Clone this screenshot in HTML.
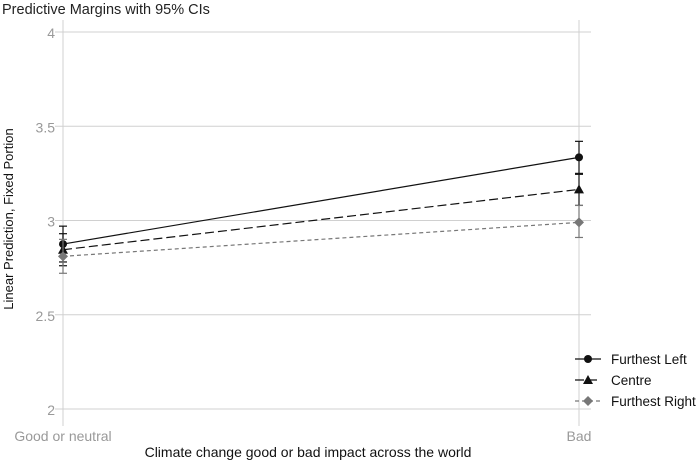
<!DOCTYPE html>
<html><head><meta charset="utf-8"><style>
html,body{margin:0;padding:0;background:#fff}
svg{display:block;font-family:"Liberation Sans",sans-serif}
</style></head><body>
<svg id="chart" width="700" height="463">
<text x="2" y="14" font-size="14.5" fill="#222">Predictive Margins with 95% CIs</text>
<g id="grid"></g>
<g id="series"></g>
<text x="13" y="219" font-size="13" fill="#111" transform="rotate(-90 13 219)" text-anchor="middle">Linear Prediction, Fixed Portion</text>
<text x="308" y="457" font-size="14" fill="#111" text-anchor="middle">Climate change good or bad impact across the world</text>
<g id="legend"></g>
</svg>
<script>
const categories = ["Good or neutral", "Bad"];
const yTicks = [2, 2.5, 3, 3.5, 4];
const yTickLabels = ["2", "2.5", "3", "3.5", "4"];
const seriesNames = ["Furthest Left", "Centre", "Furthest Right"];
const leftMean = [2.875, 3.335];
const leftLo = [2.78, 3.25];
const leftHi = [2.97, 3.42];
const centreMean = [2.845, 3.165];
const centreLo = [2.76, 3.08];
const centreHi = [2.93, 3.245];
const rightMean = [2.81, 2.99];
const rightLo = [2.72, 2.91];
const rightHi = [2.90, 3.08];

const NS = "http://www.w3.org/2000/svg";
function mk(tag, attrs, parent){const e=document.createElementNS(NS,tag);for(const k in attrs)e.setAttribute(k,attrs[k]);parent.appendChild(e);return e;}
const x0=63, x1=579, yTop=32, yBot=409;
function xs(i){return x0+(x1-x0)*i/(categories.length-1);}
function ys(v){return yBot-(v-2)/(4-2)*(yBot-yTop);}
const grid=document.getElementById('grid');
yTicks.forEach((t,i)=>{
  const l=mk('line',{x1:x0-8,x2:x1+12,y1:ys(t),y2:ys(t),stroke:'#d0d0d0','stroke-width':1},grid);
  
  
  const tx=mk('text',{x:x0-8,y:ys(t)+6,'font-size':14,fill:'#999','text-anchor':'end'},grid);
  tx.textContent=yTickLabels[i];
  
  
});
categories.forEach((c,i)=>{
  const l=mk('line',{x1:xs(i),x2:xs(i),y1:20,y2:426,stroke:'#d0d0d0','stroke-width':1},grid);
  
  
  const tx=mk('text',{x:xs(i),y:441,'font-size':14,fill:'#999','text-anchor':'middle'},grid);
  tx.textContent=c;
  
  
});
const ser=[
 {m:leftMean,lo:leftLo,hi:leftHi,col:'#111',dash:'',marker:'circle'},
 {m:centreMean,lo:centreLo,hi:centreHi,col:'#111',dash:'9,4',marker:'tri'},
 {m:rightMean,lo:rightLo,hi:rightHi,col:'#777',dash:'4,3',marker:'diamond'}
];
function marker(g,type,x,y,col){
  let e;
  if(type==='circle')e=mk('circle',{cx:x,cy:y,r:4,fill:col},g);
  else if(type==='tri')e=mk('polygon',{points:`${x},${y-5} ${x-5},${y+4} ${x+5},${y+4}`,fill:col},g);
  else e=mk('polygon',{points:`${x},${y-5} ${x+5},${y} ${x},${y+5} ${x-5},${y}`,fill:col},g);
  return e;
}
const sg=document.getElementById('series');
ser.forEach((s,k)=>{
  const g=mk('g',{},sg);
  
  
  s.m.forEach((v,i)=>{
    const x=xs(i);
    const eb=mk('line',{x1:x,x2:x,y1:ys(s.lo[i]),y2:ys(s.hi[i]),stroke:s.col,'stroke-width':1.2},g);
    
    
    [s.lo[i],s.hi[i]].forEach(v2=>{
      const cap=mk('line',{x1:x-4,x2:x+4,y1:ys(v2),y2:ys(v2),stroke:s.col,'stroke-width':1.2},g);
      
      
    });
  });
  const pl=mk('polyline',{points:s.m.map((v,i)=>xs(i)+','+ys(v)).join(' '),fill:'none',stroke:s.col,'stroke-width':1.2,'stroke-dasharray':s.dash},g);
  
  
  s.m.forEach((v,i)=>{
    const mm=marker(g,s.marker,xs(i),ys(v),s.col);
    
    
  });
});
const lg=document.getElementById('legend');
ser.forEach((s,k)=>{
  const y=359+k*21;
  const g=mk('g',{},lg);
  
  
  mk('line',{x1:575,x2:601,y1:y,y2:y,stroke:s.col,'stroke-width':1.2,'stroke-dasharray':s.dash},g);
  marker(g,s.marker,588,y,s.col);
  const t=mk('text',{x:611,y:y+5,'font-size':13.5,fill:'#111'},g);
  t.textContent=seriesNames[k];
});
</script>
</body></html>
